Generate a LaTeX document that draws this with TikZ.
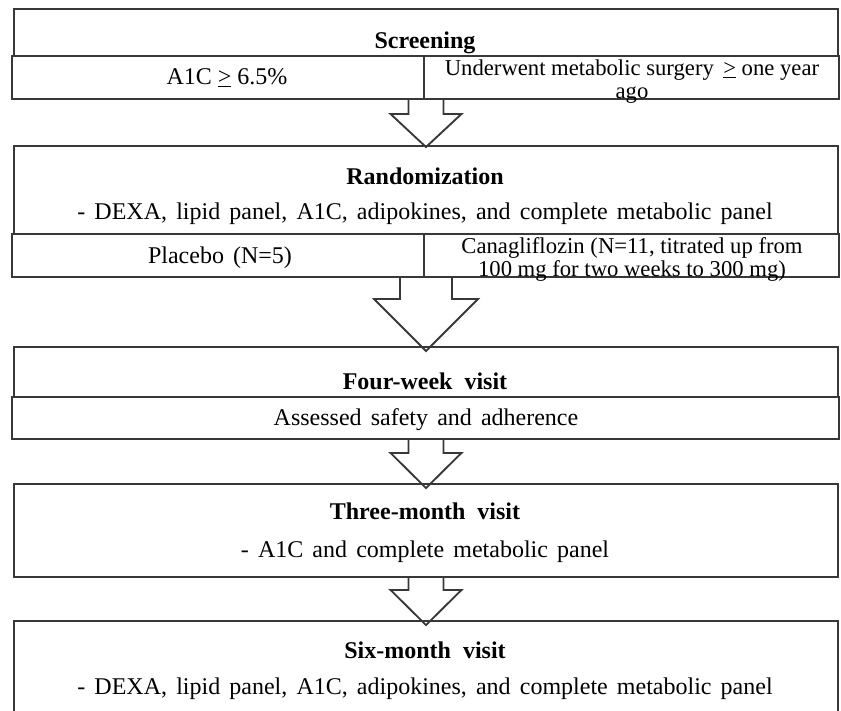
\documentclass[tikz,border=0pt]{standalone}
\usepackage{fontspec}
\setmainfont{Liberation Serif}
\usetikzlibrary{fit,calc}
\pgfdeclarelayer{bg}
\pgfsetlayers{bg,main}
\newcommand\myttlsp{\spaceskip=0.5em plus 0.1em\relax}
\newcommand\mytxtsp{\spaceskip=0.38em plus 0.1em\relax}
\begin{document}
\begin{tikzpicture}[x=0.75pt,y=-0.75pt,
  box/.style={draw=black!78, line width=1.4pt, inner sep=0pt, rectangle},
  ttl/.style={font=\fontsize{18}{21}\selectfont\bfseries\myttlsp, inner sep=0pt, text height=13pt, text depth=3.5pt},
  txt/.style={font=\fontsize{18}{21}\selectfont\mytxtsp, inner sep=0pt, text height=13pt, text depth=3.5pt},
  cell/.style={font=\fontsize{18}{21}\selectfont, inner sep=0pt, text height=13pt, text depth=3.5pt},
  two/.style={font=\fontsize{17}{17.25}\selectfont, inner sep=0pt, align=center},
  barrow/.style={draw=black!78, line width=1.4pt, fill=white, line join=miter}]
\useasboundingbox (0,0) rectangle (841,710);
\clip (0,0) rectangle (841,710);
% boxes
\node[box, fit={(14,9) (838,56)}] (scr) {};
\node[box, fit={(12,56) (424,99)}] (c1l) {};
\node[box, fit={(424,56) (839,99)}] (c1r) {};
\node[box, fit={(14,146) (838,234)}] (rnd) {};
\node[box, fit={(12,234) (424,277)}] (c2l) {};
\node[box, fit={(424,234) (839,277)}] (c2r) {};
\node[box, fit={(14,347) (838,397)}] (fw) {};
\node[box, fit={(12,397) (839,439)}] (fw2) {};
\node[box, fit={(14,484) (838,577)}] (tm) {};
\node[box, fit={(14,621) (838,740)}] (sm) {};
% texts
\node[ttl] (tscr) at (425,42) {Screening};
\node[cell] (ta1c) at (227,78) {A1C \underline{>} 6.5\%};
\node[two] (tund) at (632,81.5) {Underwent metabolic surgery \,\underline{>} one year\\ago};
\node[ttl] (trnd) at (425,178) {Randomization};
\node[txt] (tdx1) at (425,213) {- DEXA, lipid panel, A1C, adipokines, and complete metabolic panel};
\node[txt] (tpla) at (220,257) {Placebo (N=5)};
\node[two] (tcan) at (632,259) {Canagliflozin (N=11, titrated up from\\100 mg for two weeks to 300 mg)};
\node[ttl] (tfw) at (425,383) {Four-week visit};
\node[txt] (tass) at (426,419) {Assessed safety and adherence};
\node[ttl] (ttm) at (425,513) {Three-month visit};
\node[txt] (ta1) at (425,551) {- A1C and complete metabolic panel};
\node[ttl] (tsm) at (425,652) {Six-month visit};
\node[txt] (tdx2) at (425,688) {- DEXA, lipid panel, A1C, adipokines, and complete metabolic panel};
% block arrows
\coordinate (a1) at (rnd.north |- c1l.south);
\coordinate (a2) at (fw.north |- c2l.south);
\coordinate (a3) at (tm.north |- fw2.south);
\coordinate (a4) at (sm.north |- tm.south);
\begin{pgfonlayer}{bg}
\draw[barrow] ($(a1)+(-17.5,0)$) -- ($(a1)+(-17.5,14)$) -- ($(a1)+(-35.5,14)$) -- ($(rnd.north)+(0,2)$) -- ($(a1)+(35.5,14)$) -- ($(a1)+(17.5,14)$) -- ($(a1)+(17.5,0)$);
\draw[barrow] ($(a2)+(-26,0)$) -- ($(a2)+(-26,21)$) -- ($(a2)+(-52,21)$) -- ($(fw.north)+(0,5)$) -- ($(a2)+(52,21)$) -- ($(a2)+(26,21)$) -- ($(a2)+(26,0)$);
\draw[barrow] ($(a3)+(-17.5,0)$) -- ($(a3)+(-17.5,13)$) -- ($(a3)+(-35.5,13)$) -- ($(tm.north)+(0,5)$) -- ($(a3)+(35.5,13)$) -- ($(a3)+(17.5,13)$) -- ($(a3)+(17.5,0)$);
\draw[barrow] ($(a4)+(-17.5,0)$) -- ($(a4)+(-17.5,12)$) -- ($(a4)+(-35.5,12)$) -- ($(sm.north)+(0,5)$) -- ($(a4)+(35.5,12)$) -- ($(a4)+(17.5,12)$) -- ($(a4)+(17.5,0)$);
\end{pgfonlayer}
\end{tikzpicture}
\end{document}
